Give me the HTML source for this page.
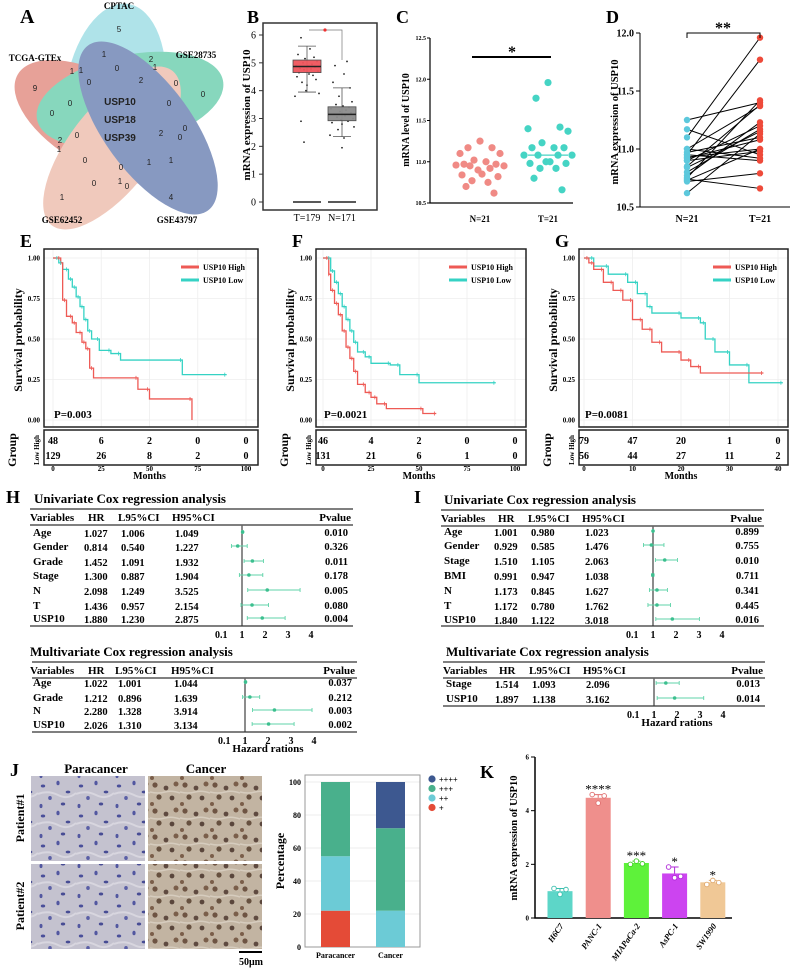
<!DOCTYPE html>
<html><head><meta charset="utf-8">
<style>
html,body{margin:0;padding:0;background:#fff;}
svg{display:block;font-family:"Liberation Serif",serif;}
.b{font-weight:bold;}
</style></head>
<body>
<svg id="fig" width="790" height="969" viewBox="0 0 790 969" xmlns="http://www.w3.org/2000/svg">
<defs>
<pattern id="paraPat" width="38" height="30" patternUnits="userSpaceOnUse">
<rect width="38" height="30" fill="#c4c2cf"/>
<ellipse cx="5" cy="6" rx="2.2" ry="1.5" fill="#4a4f9a"/>
<ellipse cx="20" cy="3" rx="1.6" ry="2.3" fill="#5257a0"/>
<ellipse cx="30" cy="12" rx="2.3" ry="1.4" fill="#474c94"/>
<ellipse cx="12" cy="18" rx="1.8" ry="2" fill="#5a5fa6"/>
<ellipse cx="25" cy="24" rx="2.2" ry="1.5" fill="#474c94"/>
<ellipse cx="3" cy="26" rx="1.5" ry="2.1" fill="#5257a0"/>
<path d="M0 14 Q10 10 20 15 T38 13" stroke="#d8d6df" stroke-width="2" fill="none"/>
</pattern>
<pattern id="canPat" width="30" height="26" patternUnits="userSpaceOnUse">
<rect width="30" height="26" fill="#c2b4a2"/>
<circle cx="5" cy="5" r="2.6" fill="#6e5443"/>
<circle cx="16" cy="8" r="2.4" fill="#5f4a40"/>
<circle cx="26" cy="4" r="2.5" fill="#7a5e4a"/>
<circle cx="9" cy="17" r="2.6" fill="#66503f"/>
<circle cx="22" cy="18" r="2.4" fill="#5a463c"/>
<circle cx="2" cy="24" r="2" fill="#7a5e4a"/>
<path d="M0 12 Q8 14 15 12 T30 13" stroke="#d6ccbe" stroke-width="1.5" fill="none"/>
</pattern>
</defs>

<g id="panelA">
<text x="20" y="23" class="b" font-size="20">A</text>
<g opacity="0.62">
<ellipse cx="115" cy="95" rx="50" ry="92" transform="rotate(8 115 95)" fill="#7fd3dc"/>
<ellipse cx="100" cy="122" rx="95" ry="46" transform="rotate(30 100 122)" fill="#d9685a"/>
<ellipse cx="130" cy="100" rx="95" ry="45" transform="rotate(-12 130 100)" fill="#3fbf95"/>
<ellipse cx="112" cy="148" rx="98" ry="42" transform="rotate(-52 112 148)" fill="#e8a994"/>
<ellipse cx="148" cy="128" rx="44" ry="102" transform="rotate(-36 148 128)" fill="#3f5b9c"/>
</g>
<g font-family="Liberation Sans, sans-serif" font-size="8" text-anchor="middle" fill="#222" id="vennNums"></g>
<g font-family="Liberation Sans, sans-serif" font-size="10" class="b" text-anchor="middle" fill="#222">
<text x="120" y="105">USP10</text>
<text x="120" y="123">USP18</text>
<text x="120" y="141">USP39</text>
</g>
<g font-size="9" class="b" text-anchor="middle">
<text x="119" y="9">CPTAC</text>
<text x="35" y="61">TCGA-GTEx</text>
<text x="196" y="58">GSE28735</text>
<text x="62" y="223">GSE62452</text>
<text x="177" y="223">GSE43797</text>
</g>
</g>

<g id="panelB">
<text x="247" y="23" class="b" font-size="18">B</text>
</g>
<g id="panelC">
<text x="396" y="23" class="b" font-size="18">C</text>
</g>
<g id="panelD">
<text x="606" y="23" class="b" font-size="18">D</text>
</g>
<g id="panelE"></g>
<g id="panelF"></g>
<g id="panelG"></g>
<g id="panelH">
<text x="6" y="503" class="b" font-size="18">H</text>
</g>
<g id="panelI">
<text x="414" y="503" class="b" font-size="18">I</text>
</g>

<g id="panelJ">
<text x="10" y="776" class="b" font-size="18">J</text>
<text x="96" y="773" class="b" font-size="13" text-anchor="middle">Paracancer</text>
<text x="206" y="773" class="b" font-size="13" text-anchor="middle">Cancer</text>
<rect x="31" y="776" width="114" height="85" fill="url(#paraPat)"/>
<rect x="148" y="776" width="114" height="85" fill="url(#canPat)"/>
<rect x="31" y="864" width="114" height="85" fill="url(#paraPat)"/>
<rect x="148" y="864" width="114" height="85" fill="url(#canPat)"/>
<text transform="translate(24 818) rotate(-90)" class="b" font-size="12" text-anchor="middle">Patient#1</text>
<text transform="translate(24 906) rotate(-90)" class="b" font-size="12" text-anchor="middle">Patient#2</text>
<line x1="239" y1="952" x2="262" y2="952" stroke="#000" stroke-width="2"/>
<text x="251" y="965" class="b" font-size="10" text-anchor="middle">50μm</text>
</g>
<g id="panelJbar"></g>
<g id="panelK">
<text x="480" y="778" class="b" font-size="18">K</text>
</g>
</svg>

<script>
// ===== Data =====
const vennVals = ["5","1","2","1","1","1","0","0","2","0","9","0","0","0","0","0","2","0","0","2","1","0","0","1","1","0","1","0","1","4"];
const bGroups = ["T=179","N=171"];
const bQ1 = [4.65, 2.92];
const bMed = [4.87, 3.15];
const bQ3 = [5.1, 3.42];
const bLow = [3.95, 2.35];
const bHigh = [5.6, 4.1];
const bTicks = [0,1,2,3,4,5,6];
const bJitterT = [5.9,5.5,5.3,5.2,5.15,5.05,5.0,4.95,4.9,4.88,4.85,4.8,4.78,4.75,4.7,4.65,4.6,4.55,4.5,4.4,4.3,4.2,4.0,3.9,3.8,2.9,2.15];
const bJitterN = [5.05,4.9,4.6,4.3,4.1,3.8,3.6,3.5,3.45,3.4,3.35,3.3,3.25,3.2,3.15,3.1,3.05,3.0,2.95,2.9,2.85,2.8,2.7,2.6,2.4,2.3,1.95];
const cGroups = ["N=21","T=21"];
const cN = [11.25,11.17,11.17,11.1,11.1,11.02,11.0,10.97,10.97,10.96,10.95,10.95,10.92,10.9,10.85,10.84,10.82,10.77,10.75,10.7,10.62];
const cT = [11.96,11.77,11.42,11.4,11.37,11.23,11.17,11.17,11.17,11.08,11.08,11.08,11.08,11.0,11.0,10.98,10.98,10.92,10.92,10.8,10.66];
const cTicks = [10.5,11.0,11.5,12.0,12.5];
const dN = [11.25,11.17,11.1,11.0,11.0,10.97,10.95,10.93,10.92,10.9,10.9,10.85,10.84,10.8,10.77,10.75,10.74,10.73,10.72,10.62,10.95];
const dT = [11.4,10.95,11.96,11.37,10.92,11.1,11.77,11.0,11.08,11.2,10.98,11.38,11.15,11.17,11.23,11.42,10.66,11.0,10.79,11.13,10.9];
const dTicks = [10.5,11.0,11.5,12.0];
const eHighT = [0,4,5,7,10,12,15,17,19,21,44,50,72];
const eHighS = [1,0.97,0.74,0.64,0.6,0.54,0.48,0.44,0.32,0.26,0.19,0.13,0.0];
const eLowT = [0,3,5,8,10,12,14,16,18,20,24,30,35,67,90];
const eLowS = [1,0.97,0.93,0.87,0.82,0.76,0.7,0.62,0.55,0.5,0.43,0.41,0.37,0.28,0.28];
const eRiskHigh = [48,6,2,0,0];
const eRiskLow = [129,26,8,2,0];
const eXTicks = [0,25,50,75,100];
const fHighT = [0,3,4,6,8,10,12,14,16,18,22,25,28,33,52,59];
const fHighS = [1,0.9,0.8,0.72,0.65,0.55,0.45,0.38,0.3,0.22,0.17,0.14,0.1,0.07,0.04,0.04];
const fLowT = [0,4,6,8,10,12,14,16,18,22,25,35,40,50,90];
const fLowS = [1,0.92,0.85,0.78,0.7,0.62,0.55,0.48,0.42,0.39,0.35,0.34,0.28,0.23,0.23];
const fRiskHigh = [46,4,2,0,0];
const fRiskLow = [131,21,6,1,0];
const fXTicks = [0,25,50,75,100];
const gHighT = [0,1,2,4,6,8,10,12,14,16,20,22,24,37];
const gHighS = [1,0.97,0.93,0.85,0.8,0.74,0.62,0.56,0.48,0.42,0.37,0.33,0.29,0.29];
const gLowT = [0,2,5,9,11,13,14,20,24,25,27,30,34,41];
const gLowS = [1,0.95,0.9,0.85,0.78,0.7,0.66,0.63,0.6,0.5,0.42,0.34,0.23,0.23];
const gRiskHigh = [79,47,20,1,0];
const gRiskLow = [56,44,27,11,2];
const gXTicks = [0,10,20,30,40];
const kmYTicks = [0,0.25,0.5,0.75,1.0];
const hUniVars = ["Age","Gender","Grade","Stage","N","T","USP10"];
const hUniHR = [1.027,0.814,1.452,1.300,2.098,1.436,1.880];
const hUniLo = [1.006,0.540,1.091,0.887,1.249,0.957,1.230];
const hUniHi = [1.049,1.227,1.932,1.904,3.525,2.154,2.875];
const hUniP = ["0.010","0.326","0.011","0.178","0.005","0.080","0.004"];
const hMulVars = ["Age","Grade","N","USP10"];
const hMulHR = [1.022,1.212,2.280,2.026];
const hMulLo = [1.001,0.896,1.328,1.310];
const hMulHi = [1.044,1.639,3.914,3.134];
const hMulP = ["0.037","0.212","0.003","0.002"];
const iUniVars = ["Age","Gender","Stage","BMI","N","T","USP10"];
const iUniHR = [1.001,0.929,1.510,0.991,1.173,1.172,1.840];
const iUniLo = [0.980,0.585,1.105,0.947,0.845,0.780,1.122];
const iUniHi = [1.023,1.476,2.063,1.038,1.627,1.762,3.018];
const iUniP = ["0.899","0.755","0.010","0.711","0.341","0.445","0.016"];
const iMulVars = ["Stage","USP10"];
const iMulHR = [1.514,1.897];
const iMulLo = [1.093,1.138];
const iMulHi = [2.096,3.162];
const iMulP = ["0.013","0.014"];
const forestTicks = ["0.1","1","2","3","4"];
const jGroups = ["Paracancer","Cancer"];
const jLevels = ["+","++","+++","++++"];
const jPlus = [22,0];
const jPlus2 = [33,22];
const jPlus3 = [45,50];
const jPlus4 = [0,28];
const jTicks = [0,20,40,60,80,100];
const kCells = ["H6C7","PANC-1","MIAPaCa-2","AsPC-1","SW1990"];
const kMeans = [1.0,4.48,2.05,1.66,1.33];
const kRep1 = [1.1,4.6,2.0,1.9,1.25];
const kRep2 = [0.88,4.28,2.12,1.5,1.4];
const kRep3 = [1.06,4.55,2.02,1.55,1.32];
const kStars = ["","****","***","*","*"];
const kTicks = [0,2,4,6];

const NS = "http://www.w3.org/2000/svg";
function mk(parent, tag, attrs, txt){
  const e = document.createElementNS(NS, tag);
  for (const k in attrs) e.setAttribute(k, attrs[k]);
  if (txt !== undefined) e.textContent = txt;
  parent.appendChild(e);
  return e;
}
function lin(d0,d1,r0,r1){ return v => r0 + (v-d0)*(r1-r0)/(d1-d0); }

const vennPos = [[119,32],[104,57],[151,62],[155,70],[72,74],[81,73],[117,71],[89,85],[141,83],[176,86],[35,91],[203,97],[70,106],[52,116],[169,106],[77,138],[161,136],[185,131],[180,140],[60,143],[59,152],[85,163],[121,170],[149,165],[171,163],[94,186],[120,184],[127,189],[62,200],[171,200]];
{
  const g = document.getElementById("vennNums");
  vennVals.forEach((v,i)=>{
    const t = mk(g,"text",{x:vennPos[i][0],y:vennPos[i][1]},v);
    
    
  });
}

// ===== Panel B =====
{
  const g = document.getElementById("panelB");
  const y = lin(0,6,202,35);
  const fr = mk(g,"rect",{x:263,y:23,width:114,height:187,fill:"none",stroke:"#333","stroke-width":1.5});
  
  
  bTicks.forEach(v=>{
    const l = mk(g,"line",{x1:259,x2:263,y1:y(v),y2:y(v),stroke:"#333"});
    
    
    const t = mk(g,"text",{x:256,y:y(v)+3.5,"font-size":10,"text-anchor":"end"},String(v));
    
    
  });
  const yl = mk(g,"text",{transform:"translate(250 115) rotate(-90)","font-size":11,"text-anchor":"middle",class:"b"},"mRNA expression of USP10");
  
  
  const cx = [307,342], colors=["#f0555c","#8c8c8c"];
  const jit = [[-6,3,-9,7,-2,10,-4,5,-11,1,8,-7,4,-3,11,-8,2,6,-10,9,-5,0,-1,12,-12,-6,-3],[5,-7,2,-9,8,-3,10,-6,1,7,-11,4,-2,9,-8,3,-5,11,-1,6,-10,0,12,-4,-12,2,0]];
  [bJitterT,bJitterN].forEach((arr,gi)=>{
    arr.forEach((v,i)=>{
      const c = mk(g,"circle",{cx:cx[gi]+jit[gi][i%jit[gi].length],cy:y(v),r:0.9,fill:"#222"});
      
      
    });
  });
  bGroups.forEach((name,i)=>{
    const w1 = mk(g,"line",{x1:cx[i],x2:cx[i],y1:y(bHigh[i]),y2:y(bLow[i]),stroke:"#555","stroke-width":0.8});
    
    
    [bHigh[i],bLow[i]].forEach(v=>{
      const cap = mk(g,"line",{x1:cx[i]-9,x2:cx[i]+9,y1:y(v),y2:y(v),stroke:"#555","stroke-width":0.8});
      
      
    });
    const bx = mk(g,"rect",{x:cx[i]-14,y:y(bQ3[i]),width:28,height:y(bQ1[i])-y(bQ3[i]),fill:colors[i],stroke:"#444","stroke-width":0.8,opacity:0.95});
    
    
    const md = mk(g,"line",{x1:cx[i]-14,x2:cx[i]+14,y1:y(bMed[i]),y2:y(bMed[i]),stroke:"#222","stroke-width":1.5});
    
    
    const z = mk(g,"line",{x1:cx[i]-14,x2:cx[i]+14,y1:y(0),y2:y(0),stroke:"#222","stroke-width":1.5});
    
    
    const xl = mk(g,"text",{x:cx[i],y:221,"font-size":10,"text-anchor":"middle"},name);
    
    
  });
  const br = mk(g,"path",{d:"M309 30 H342 V60",fill:"none",stroke:"#777","stroke-width":0.7});
  
  
  const st = mk(g,"circle",{cx:325,cy:30,r:1.6,fill:"#f03030"});
  
  
}

// ===== Panel C =====
{
  const g = document.getElementById("panelC");
  const y = lin(10.5,12.5,203,38);
  const ax = mk(g,"path",{d:"M430 38 V203 H573",fill:"none",stroke:"#000","stroke-width":1.2});
  
  
  cTicks.forEach(v=>{
    const l = mk(g,"line",{x1:427,x2:430,y1:y(v),y2:y(v),stroke:"#000"});
    
    
    const t = mk(g,"text",{x:426,y:y(v)+2,"font-size":6,"text-anchor":"end",class:"b"},v.toFixed(1));
    
    
  });
  const yl = mk(g,"text",{transform:"translate(409 120) rotate(-90)","font-size":10,"text-anchor":"middle",class:"b"},"mRNA level of USP10");
  
  
  const cx=[480,548], cols=["#f08a85","#45d4c4"];
  const spread = [0,-12,12,-20,20,-6,6,-16,16,-24,24,-10,10,-2,2,-18,18,-8,8,-14,14];
  [cN,cT].forEach((arr,gi)=>{
    arr.forEach((v,i)=>{
      const c = mk(g,"circle",{cx:cx[gi]+spread[i%spread.length],cy:y(v),r:3.6,fill:cols[gi]});
      
      
    });
    const xl = mk(g,"text",{x:cx[gi],y:222,"font-size":9,"text-anchor":"middle",class:"b"},cGroups[gi]);
    
    
  });
  const med = mk(g,"line",{x1:528,x2:568,y1:y(11.08),y2:y(11.08),stroke:"#45d4c4","stroke-width":1.2});
  
  
  const sb = mk(g,"line",{x1:472,x2:551,y1:57,y2:57,stroke:"#000","stroke-width":2});
  
  
  const st = mk(g,"text",{x:512,y:57,"font-size":16,"text-anchor":"middle",class:"b"},"*");
  
  
}

// ===== Panel D =====
{
  const g = document.getElementById("panelD");
  const y = lin(10.5,12.0,207,33);
  const ax = mk(g,"path",{d:"M640 33 V207 H790",fill:"none",stroke:"#000","stroke-width":1});
  
  
  dTicks.forEach(v=>{
    const l = mk(g,"line",{x1:636,x2:640,y1:y(v),y2:y(v),stroke:"#000"});
    
    
    const t = mk(g,"text",{x:634,y:y(v)+3.5,"font-size":10,"text-anchor":"end",class:"b"},v.toFixed(1));
    
    
  });
  const yl = mk(g,"text",{transform:"translate(618 122) rotate(-90)","font-size":10.5,"text-anchor":"middle",class:"b"},"mRNA expression of USP10");
  
  
  const xN=687, xT=760;
  dN.forEach((v,i)=>{
    const l = mk(g,"line",{x1:xN,x2:xT,y1:y(v),y2:y(dT[i]),stroke:"#000","stroke-width":1});
    
    
  });
  dN.forEach(v=>{
    const c = mk(g,"circle",{cx:xN,cy:y(v),r:3.2,fill:"#5cc8dc"});
    
    
  });
  dT.forEach(v=>{
    const c = mk(g,"circle",{cx:xT,cy:y(v),r:3.2,fill:"#ee4a3a"});
    
    
  });
  ["N=21","T=21"].forEach((s,i)=>{
    const xl = mk(g,"text",{x:[xN,xT][i],y:222,"font-size":10,"text-anchor":"middle",class:"b"},s);
    
    
  });
  const br = mk(g,"path",{d:"M687 38 V33 H760 V38",fill:"none",stroke:"#000","stroke-width":1});
  
  
  const st = mk(g,"text",{x:723,y:33,"font-size":16,"text-anchor":"middle",class:"b"},"**");
  
  
}

// ===== KM panels =====
function km(id, label, box, xmax, xTicks, hT, hS, lT, lS, riskH, riskL, pText, legX){
  const g = document.getElementById(id);
  const [bx0,bx1,px0,px1] = box;
  const x = lin(0,xmax,px0,px1), y = lin(0,1,420,258);
  const FT=249, FB=427;
  const lab = mk(g,"text",{x:bx0-24,y:247,"font-size":18,class:"b"},label);
  
  
  xTicks.forEach(v=>{
    const gl = mk(g,"line",{x1:x(v),x2:x(v),y1:FT,y2:FB,stroke:"#eee","stroke-width":0.8});
    
    
  });
  kmYTicks.forEach(v=>{
    const gl = mk(g,"line",{x1:bx0,x2:bx1,y1:y(v),y2:y(v),stroke:"#eee","stroke-width":0.8});
    
    
    const t = mk(g,"text",{x:bx0-4,y:y(v)+2.5,"font-size":7,"text-anchor":"end",class:"b"},v.toFixed(2));
    
    
  });
  const fr = mk(g,"rect",{x:bx0,y:FT,width:bx1-bx0,height:FB-FT,fill:"none",stroke:"#222","stroke-width":1.5});
  
  
  const yl = mk(g,"text",{transform:`translate(${bx0-22} 340) rotate(-90)`,"font-size":12,"text-anchor":"middle",class:"b"},"Survival probability");
  
  
  function step(T,S){
    let d = `M${x(T[0])} ${y(S[0])}`;
    for(let i=1;i<T.length;i++){ d += ` H${x(T[i])} V${y(S[i])}`; }
    return d;
  }
  const pl = mk(g,"path",{d:step(lT,lS),fill:"none",stroke:"#35d2c4","stroke-width":1.3});
  
  
  const ph = mk(g,"path",{d:step(hT,hS),fill:"none",stroke:"#ee5a55","stroke-width":1.3});
  
  
  [[hT,hS,"#ee5a55"],[lT,lS,"#35d2c4"]].forEach(([T,S,c])=>{
    for(let i=1;i<T.length;i++){
      const cm = mk(g,"line",{x1:x(T[i]-0.01*xmax),x2:x(T[i]-0.01*xmax),y1:y(S[i-1])-2,y2:y(S[i-1])+2,stroke:c,"stroke-width":0.8});
      
      
    }
  });
  [["USP10 High","#ee5a55",267],["USP10 Low","#35d2c4",280]].forEach(([s,c,yy])=>{
    const ll = mk(g,"line",{x1:legX,x2:legX+18,y1:yy,y2:yy,stroke:c,"stroke-width":3});
    
    
    const lt = mk(g,"text",{x:legX+22,y:yy+3,"font-size":8,class:"b"},s);
    
    
  });
  const pt = mk(g,"text",{x:px0+1,y:418,"font-size":11,class:"b"},pText);
  
  
  const rt = mk(g,"rect",{x:bx0,y:430,width:bx1-bx0,height:35,fill:"none",stroke:"#222","stroke-width":1.5});
  
  
  xTicks.forEach((v,i)=>{
    const a = mk(g,"text",{x:x(v),y:444,"font-size":10,"text-anchor":"middle",class:"b"},String(riskH[i]));
    
    
    const b = mk(g,"text",{x:x(v),y:459,"font-size":10,"text-anchor":"middle",class:"b"},String(riskL[i]));
    
    
    const tl = mk(g,"text",{x:x(v),y:471,"font-size":7,"text-anchor":"middle",class:"b"},String(v));
    
    
  });
  const gr = mk(g,"text",{transform:`translate(${bx0-28} 450) rotate(-90)`,"font-size":12,"text-anchor":"middle",class:"b"},"Group");
  
  
  const lh = mk(g,"text",{transform:`translate(${bx0-5} 450) rotate(-90)`,"font-size":7,"text-anchor":"middle",class:"b"},"Low High");
  
  
  const ml = mk(g,"text",{x:(px0+px1)/2,y:479,"font-size":10,"text-anchor":"middle",class:"b"},"Months");
  
  
}
km("panelE","E",[44,258,53,246],100,eXTicks,eHighT,eHighS,eLowT,eLowS,eRiskHigh,eRiskLow,"P=0.003",181);
km("panelF","F",[316,526,323,515],100,fXTicks,fHighT,fHighS,fLowT,fLowS,fRiskHigh,fRiskLow,"P=0.0021",449);
km("panelG","G",[579,788,584,778],40,gXTicks,gHighT,gHighS,gLowT,gLowS,gRiskHigh,gRiskLow,"P=0.0081",713);

// ===== Forest plots =====
function forest(g, o){
  const fx = v => o.vx + (v-1)*23;
  const t = mk(g,"text",{x:o.tx,y:o.ty,"font-size":13,class:"b"},o.title);
  
  
  const l1 = mk(g,"line",{x1:o.x0,x2:o.x1,y1:o.ty+6,y2:o.ty+6,stroke:"#333","stroke-width":1.2});
  
  
  const hy = o.ty+18;
  [["Variables",o.cv,"start"],["HR",o.ch,"start"],["L95%CI",o.cl,"start"],["H95%CI",o.cu,"start"],["Pvalue",o.x1-2,"end"]].forEach(([s,xx,a])=>{
    const h = mk(g,"text",{x:xx,y:hy,"font-size":11,"text-anchor":a,class:"b"},s);
    
    
  });
  const l2 = mk(g,"line",{x1:o.x0,x2:o.x1,y1:hy+4,y2:hy+4,stroke:"#333","stroke-width":1.2});
  
  
  const vl = mk(g,"line",{x1:o.vx,x2:o.vx,y1:hy+4,y2:o.by,stroke:"#666","stroke-width":1.5});
  
  
  o.vars.forEach((name,i)=>{
    const yy = o.rows[i];
    const a = mk(g,"text",{x:o.cv+3,y:yy+4,"font-size":11,class:"b"},name);
    
    
    const b = mk(g,"text",{x:o.ch-4,y:yy+5,"font-size":10.5,class:"b"},o.hr[i].toFixed(3));
    
    
    const c = mk(g,"text",{x:o.cl+3,y:yy+5,"font-size":10.5,class:"b"},o.lo[i].toFixed(3));
    
    
    const d = mk(g,"text",{x:o.cu+3,y:yy+5,"font-size":10.5,class:"b"},o.hi[i].toFixed(3));
    
    
    const p = mk(g,"text",{x:o.x1-5,y:yy+4,"font-size":10.5,"text-anchor":"end",class:"b"},o.p[i]);
    
    
    const ci = mk(g,"path",{d:`M${fx(o.lo[i])} ${yy-2} V${yy+2} M${fx(o.lo[i])} ${yy} H${fx(o.hi[i])} M${fx(o.hi[i])} ${yy-2} V${yy+2}`,stroke:"#5fd3a8","stroke-width":0.9,fill:"none"});
    
    
    const pt = mk(g,"circle",{cx:fx(o.hr[i]),cy:yy,r:1.8,fill:"#3cbf8f"});
    
    
  });
  const l3 = mk(g,"line",{x1:o.x0,x2:o.x1,y1:o.by,y2:o.by,stroke:"#333","stroke-width":1.2});
  
  
  forestTicks.forEach(s=>{
    const tl = mk(g,"text",{x:fx(parseFloat(s)),y:o.by+12,"font-size":10,"text-anchor":"middle",class:"b"},s);
    
    
  });
  if (o.axisTitle){
    const at = mk(g,"text",{x:o.vx+23,y:o.by+20,"font-size":11,"text-anchor":"middle",class:"b"},"Hazard rations");
    
    
  }
}
{
  const gH = document.getElementById("panelH");
  forest(gH,{title:"Univariate Cox regression analysis",tx:34,ty:503,x0:30,x1:353,cv:30,ch:88,cl:118,cu:172,vx:242,by:626,rows:[532,546,561,575,590,605,618],vars:hUniVars,hr:hUniHR,lo:hUniLo,hi:hUniHi,p:hUniP});
  forest(gH,{title:"Multivariate Cox regression analysis",tx:30,ty:656,x0:32,x1:357,cv:30,ch:88,cl:115,cu:171,vx:245,by:732,rows:[682,697,710,724],vars:hMulVars,hr:hMulHR,lo:hMulLo,hi:hMulHi,p:hMulP,axisTitle:true});
  const gI = document.getElementById("panelI");
  forest(gI,{title:"Univariate Cox regression analysis",tx:444,ty:504,x0:441,x1:764,cv:441,ch:498,cl:528,cu:582,vx:653,by:626,rows:[531,545,560,575,590,605,619],vars:iUniVars,hr:iUniHR,lo:iUniLo,hi:iUniHi,p:iUniP});
  forest(gI,{title:"Multivariate Cox regression analysis",tx:446,ty:656,x0:443,x1:765,cv:443,ch:499,cl:529,cu:583,vx:654,by:706,rows:[683,698],vars:iMulVars,hr:iMulHR,lo:iMulLo,hi:iMulHi,p:iMulP,axisTitle:true});
}

// ===== J stacked bar =====
{
  const g = document.getElementById("panelJbar");
  const y = lin(0,100,947,782);
  jTicks.forEach(v=>{
    const gl = mk(g,"line",{x1:305,x2:420,y1:y(v),y2:y(v),stroke:"#eee"});
    
    
    const t = mk(g,"text",{x:301,y:y(v)+3,"font-size":8,"text-anchor":"end",class:"b"},String(v));
    
    
  });
  const fr = mk(g,"rect",{x:305,y:775,width:115,height:172,fill:"none",stroke:"#999","stroke-width":1});
  
  
  const cols = ["#e44b37","#6ccbd6","#49b08c","#3d5890"];
  const series = [jPlus,jPlus2,jPlus3,jPlus4];
  const bxs = [321,376];
  jGroups.forEach((name,gi)=>{
    let acc = 0;
    series.forEach((s,si)=>{
      const v = s[gi];
      if (v>0){
        const r = mk(g,"rect",{x:bxs[gi],y:y(acc+v),width:29,height:y(acc)-y(acc+v),fill:cols[si]});
        
        
      }
      acc += v;
    });
    const xl = mk(g,"text",{x:bxs[gi]+14.5,y:958,"font-size":8,"text-anchor":"middle",class:"b"},name);
    
    
  });
  const yl = mk(g,"text",{transform:"translate(284 861) rotate(-90)","font-size":12,"text-anchor":"middle",class:"b"},"Percentage");
  
  
  [3,2,1,0].forEach((si,k)=>{
    const c = mk(g,"circle",{cx:432,cy:779+k*9.5,r:3.6,fill:cols[si]});
    
    
    const t = mk(g,"text",{x:439,y:782+k*9.5,"font-size":8,"font-family":"Liberation Sans, sans-serif"},jLevels[si]);
    
    
  });
}

// ===== K bars =====
{
  const g = document.getElementById("panelK");
  const y = lin(0,6,918,757);
  const ax = mk(g,"path",{d:"M535 757 V918 H732",fill:"none",stroke:"#000","stroke-width":1.5});
  
  
  kTicks.forEach(v=>{
    const l = mk(g,"line",{x1:531,x2:535,y1:y(v),y2:y(v),stroke:"#000"});
    
    
    const t = mk(g,"text",{x:529,y:y(v)+2.5,"font-size":7,"text-anchor":"end",class:"b"},String(v));
    
    
  });
  const yl = mk(g,"text",{transform:"translate(517 838) rotate(-90)","font-size":10.5,"text-anchor":"middle",class:"b"},"mRNA expression of USP10");
  
  
  const cols = ["#5dd6c8","#ef8f8c","#5ef23a","#cc44f0","#f0c896"];
  const strokeCols = ["#3bbfae","#e07070","#3ccf20","#b02ad8","#e0aa70"];
  kCells.forEach((name,i)=>{
    const cx = 560 + i*38.2;
    const r = mk(g,"rect",{x:cx-12.5,y:y(kMeans[i]),width:25,height:y(0)-y(kMeans[i]),fill:cols[i]});
    
    
    const mx = Math.max(kRep1[i],kRep2[i],kRep3[i]);
    const eb = mk(g,"path",{d:`M${cx} ${y(kMeans[i])} V${y(mx)} M${cx-4} ${y(mx)} H${cx+4}`,stroke:strokeCols[i],"stroke-width":1,fill:"none"});
    
    
    [kRep1[i],kRep2[i],kRep3[i]].forEach((v,k)=>{
      const c = mk(g,"circle",{cx:cx+(k-1)*6,cy:y(v),r:2.3,fill:"#fff",stroke:strokeCols[i],"stroke-width":0.9});
      
      
    });
    if (kStars[i]){
      const s = mk(g,"text",{x:cx,y:y(mx)-1,"font-size":13,"text-anchor":"middle"},kStars[i]);
      
      
    }
    const xl = mk(g,"text",{transform:`translate(${cx+4} 926) rotate(-55)`,"font-size":8.5,"text-anchor":"end",class:"b","font-style":"italic"},name);
    
    
  });
}
</script>
</body></html>
